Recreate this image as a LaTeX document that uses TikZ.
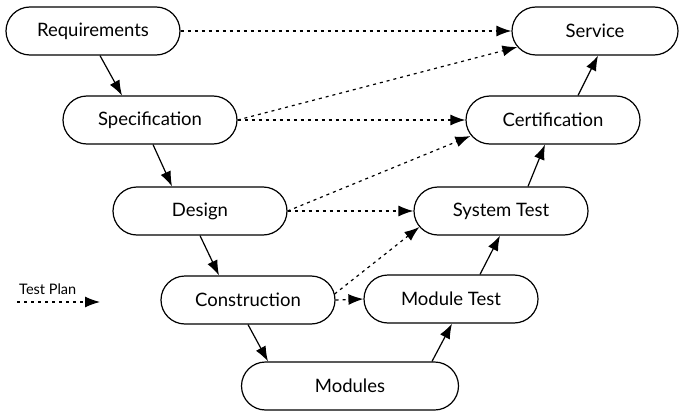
\documentclass[tikz,border=0pt]{standalone}
\usepackage{fontspec}
\setmainfont{Lato}
\usepackage{tikz}
\usetikzlibrary{arrows.meta}
\tikzstyle{phase} = [draw, line width=1.2pt, rounded corners=24pt, inner sep=0pt,
        minimum width=174pt, minimum height=48pt, font={\fontsize{18.5}{22}\selectfont}]
\tikzstyle{flow} = [line width=1.2pt, -{Latex[length=15pt,width=11pt]}]
\tikzstyle{plan} = [flow, dash pattern=on 3pt off 4pt]
\begin{document}
\begin{tikzpicture}[x=1pt, y=-1pt]
            \useasboundingbox (0,0) rectangle (680,412);
            \node [phase] (req) at (93,31) {Requirements};
            \node [phase] (spec) at (150,120) {Specification};
            \node [phase] (design) at (200,211) {Design};
            \node [phase] (constr) at (248,300) {Construction};
            \node [phase, minimum width=217pt] (modules) at (350,386) {Modules};
            \node [phase] (modtest) at (451,299) {Module Test};
            \node [phase] (systest) at (501,211) {System Test};
            \node [phase] (cert) at (553,120) {Certification};
            \node [phase, minimum width=166pt] (service) at (595,31) {Service};
            \draw [flow] ([xshift=7pt]req.south) -- ([xshift=-28pt]spec.north);
            \draw [flow] ([xshift=3pt]spec.south) -- ([xshift=-28pt]design.north);
            \draw [flow] (design.south) -- ([xshift=-29pt]constr.north);
            \draw [flow] (constr.south) -- ([xshift=-82pt]modules.north);
            \draw [flow] ([xshift=82pt]modules.north) -- ([xshift=1pt]modtest.south);
            \draw [flow] ([xshift=29pt]modtest.north) -- ([xshift=-1pt]systest.south);
            \draw [flow] ([xshift=27pt]systest.north) -- ([xshift=-8pt]cert.south);
            \draw [flow] ([xshift=25pt]cert.north) -- ([xshift=3pt]service.south);
            \draw [plan] (req.east) -- (service.west);
            \draw [plan] (spec.east) -- ([xshift=6pt,yshift=-16pt]service.west);
            \draw [plan] (spec.east) -- (cert.west);
            \draw [plan] (design.east) -- ([xshift=5pt,yshift=-16pt]cert.west);
            \draw [plan] (design.east) -- (systest.west);
            \draw [plan] ([xshift=-1pt,yshift=6pt]constr.east) -- ([xshift=6pt,yshift=-16pt]systest.west);
            \draw [plan] (constr.east) -- (modtest.west);
            \node [anchor=west, inner sep=0pt, font={\fontsize{14.5}{17}\selectfont}] (testplan) at (19,289) {Test Plan};
            \coordinate (planfrom) at (17,302);
            \coordinate (planto) at (100,302);
            \draw [plan] (planfrom) -- (planto);
\end{tikzpicture}
\end{document}
